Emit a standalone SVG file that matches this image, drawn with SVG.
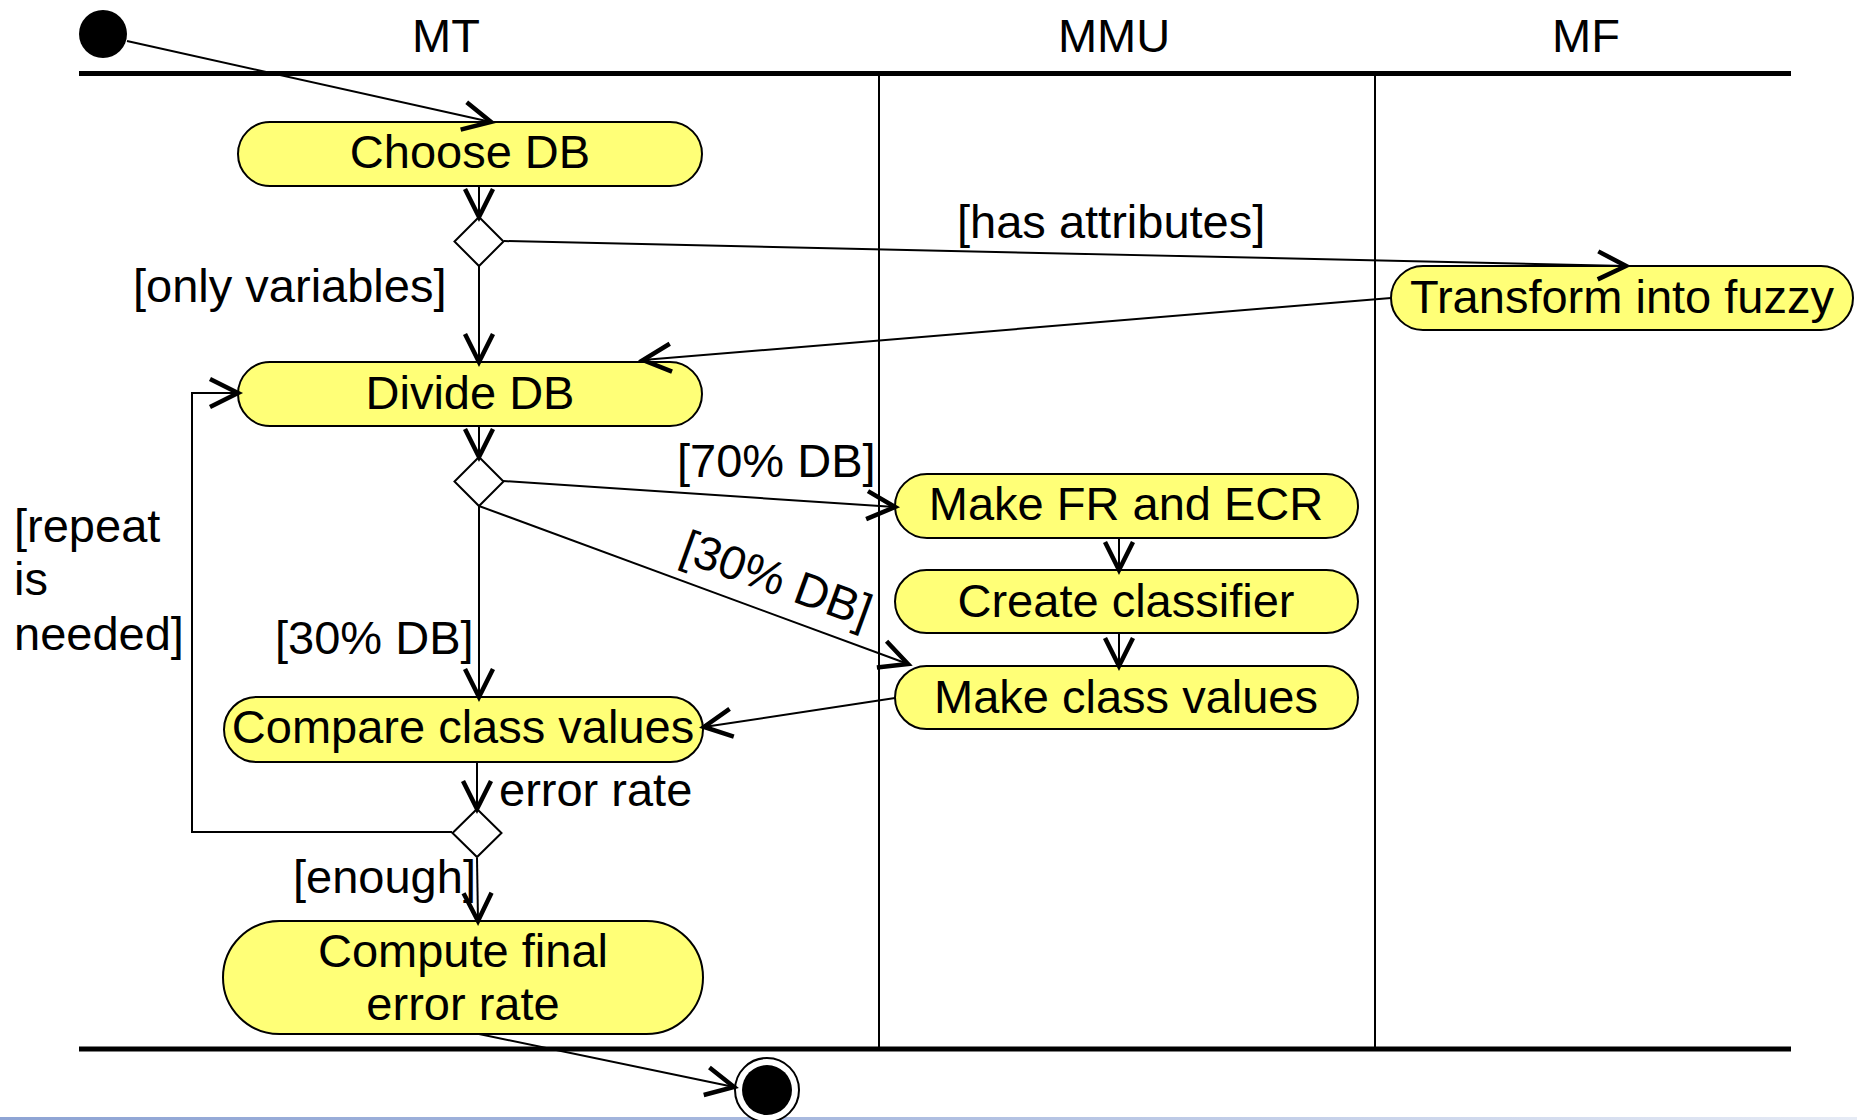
<svg xmlns="http://www.w3.org/2000/svg" width="1857" height="1120" viewBox="0 0 1857 1120">
<style>
text{font-family:"Liberation Sans",Arial,sans-serif;font-size:47px;fill:#000}
.act{fill:#ffff77;stroke:#000;stroke-width:2}
.c{text-anchor:middle}
.ln{fill:none;stroke:#000;stroke-width:2}
.arr{fill:none;stroke:#000;stroke-width:2;marker-end:url(#ah)}
.dia{fill:#fff;stroke:#000;stroke-width:2}
.lane{stroke:#000;stroke-width:2}
.bar{stroke:#000;stroke-width:5}
</style>
<defs>
<marker id="ah" markerUnits="userSpaceOnUse" markerWidth="40" markerHeight="40" viewBox="-34 -20 40 40" refX="0" refY="0" orient="auto" overflow="visible">
<path d="M-28,-14 L0,0 L-28,14" fill="none" stroke="#000" stroke-width="4.5" stroke-linejoin="miter"/>
</marker>
<linearGradient id="band" x1="0" x2="1" y1="0" y2="0">
<stop offset="0" stop-color="#8ea4d4"/>
<stop offset="0.45" stop-color="#a9badf"/>
<stop offset="1" stop-color="#e6ebf5"/>
</linearGradient>
</defs>
<rect x="0" y="0" width="1857" height="1120" fill="#fff"/>
<rect x="0" y="1117" width="1857" height="3" fill="url(#band)"/>

<g id="swimlanes">
<line class="bar" x1="79" y1="73.5" x2="1791" y2="73.5"/>
<line class="bar" x1="79" y1="1049" x2="1791" y2="1049"/>
<line class="lane" x1="879" y1="76" x2="879" y2="1047"/>
<line class="lane" x1="1375" y1="76" x2="1375" y2="1047"/>
<text class="c" x="446" y="52">MT</text>
<text class="c" x="1114" y="52">MMU</text>
<text class="c" x="1586" y="52">MF</text>
</g>

<g id="start"><circle cx="103" cy="34" r="24" fill="#000"/></g>

<g id="choose-db">
<rect class="act" x="238" y="122" width="464" height="64" rx="32"/>
<text class="c" x="470" y="168">Choose DB</text>
</g>
<g id="decision-1"><polygon class="dia" points="479,217 503.5,241.5 479,266 454.5,241.5"/></g>
<g id="transform-fuzzy">
<rect class="act" x="1391" y="266" width="462" height="64" rx="32"/>
<text class="c" x="1622" y="313">Transform into fuzzy</text>
</g>
<g id="divide-db">
<rect class="act" x="238" y="362" width="464" height="64" rx="32"/>
<text class="c" x="470" y="409">Divide DB</text>
</g>
<g id="decision-2"><polygon class="dia" points="479,457 503.5,481.5 479,506 454.5,481.5"/></g>
<g id="make-fr-ecr">
<rect class="act" x="895" y="474" width="463" height="64" rx="32"/>
<text class="c" x="1126" y="520">Make FR and ECR</text>
</g>
<g id="create-classifier">
<rect class="act" x="895" y="570" width="463" height="63" rx="31.5"/>
<text class="c" x="1126" y="617">Create classifier</text>
</g>
<g id="make-class-values">
<rect class="act" x="895" y="666" width="463" height="63" rx="31.5"/>
<text class="c" x="1126" y="713">Make class values</text>
</g>
<g id="compare-class-values">
<rect class="act" x="224" y="697" width="479" height="65" rx="32.5"/>
<text class="c" x="463" y="743">Compare class values</text>
</g>
<g id="decision-3"><polygon class="dia" points="477,809 501.5,833 477,857 452.5,833"/></g>
<g id="compute-final">
<rect class="act" x="223" y="921" width="480" height="113" rx="56.5"/>
<text class="c" x="463" y="967">Compute final</text>
<text class="c" x="463" y="1020">error rate</text>
</g>
<g id="end">
<circle cx="767" cy="1090" r="32" fill="#fff" stroke="#000" stroke-width="2"/>
<circle cx="767" cy="1090" r="25" fill="#000"/>
</g>

<g id="connectors">
<line class="arr" x1="127" y1="41" x2="491" y2="122"/>
<line class="arr" x1="479" y1="186" x2="479" y2="217"/>
<line class="arr" x1="479" y1="266" x2="479" y2="362"/>
<line class="arr" x1="504" y1="241" x2="1626" y2="266"/>
<line class="arr" x1="1391" y1="298" x2="643" y2="360"/>
<line class="arr" x1="479" y1="426" x2="479" y2="457"/>
<line class="arr" x1="503" y1="481" x2="895" y2="507"/>
<line class="arr" x1="479" y1="506" x2="908" y2="664"/>
<line class="arr" x1="479" y1="506" x2="479" y2="697"/>
<line class="arr" x1="1119" y1="538" x2="1119" y2="570"/>
<line class="arr" x1="1119" y1="633" x2="1119" y2="666"/>
<line class="arr" x1="895" y1="698" x2="704" y2="727"/>
<line class="arr" x1="477" y1="762" x2="477" y2="809"/>
<polyline class="arr" points="452,832 192,832 192,393 238,393"/>
<line class="arr" x1="477" y1="858" x2="478" y2="921"/>
<line class="arr" x1="479" y1="1034" x2="734" y2="1087"/>
<text x="133" y="302">[only variables]</text>
<text x="957" y="238">[has attributes]</text>
<text x="677" y="477">[70% DB]</text>
<text x="678" y="560" transform="rotate(20 678 560)">[30% DB]</text>
<text x="275" y="654">[30% DB]</text>
<text x="14" y="542">[repeat</text>
<text x="14" y="595">is</text>
<text x="14" y="650">needed]</text>
<text x="499" y="806">error rate</text>
<text x="293" y="893">[enough]</text>
</g>
</svg>
